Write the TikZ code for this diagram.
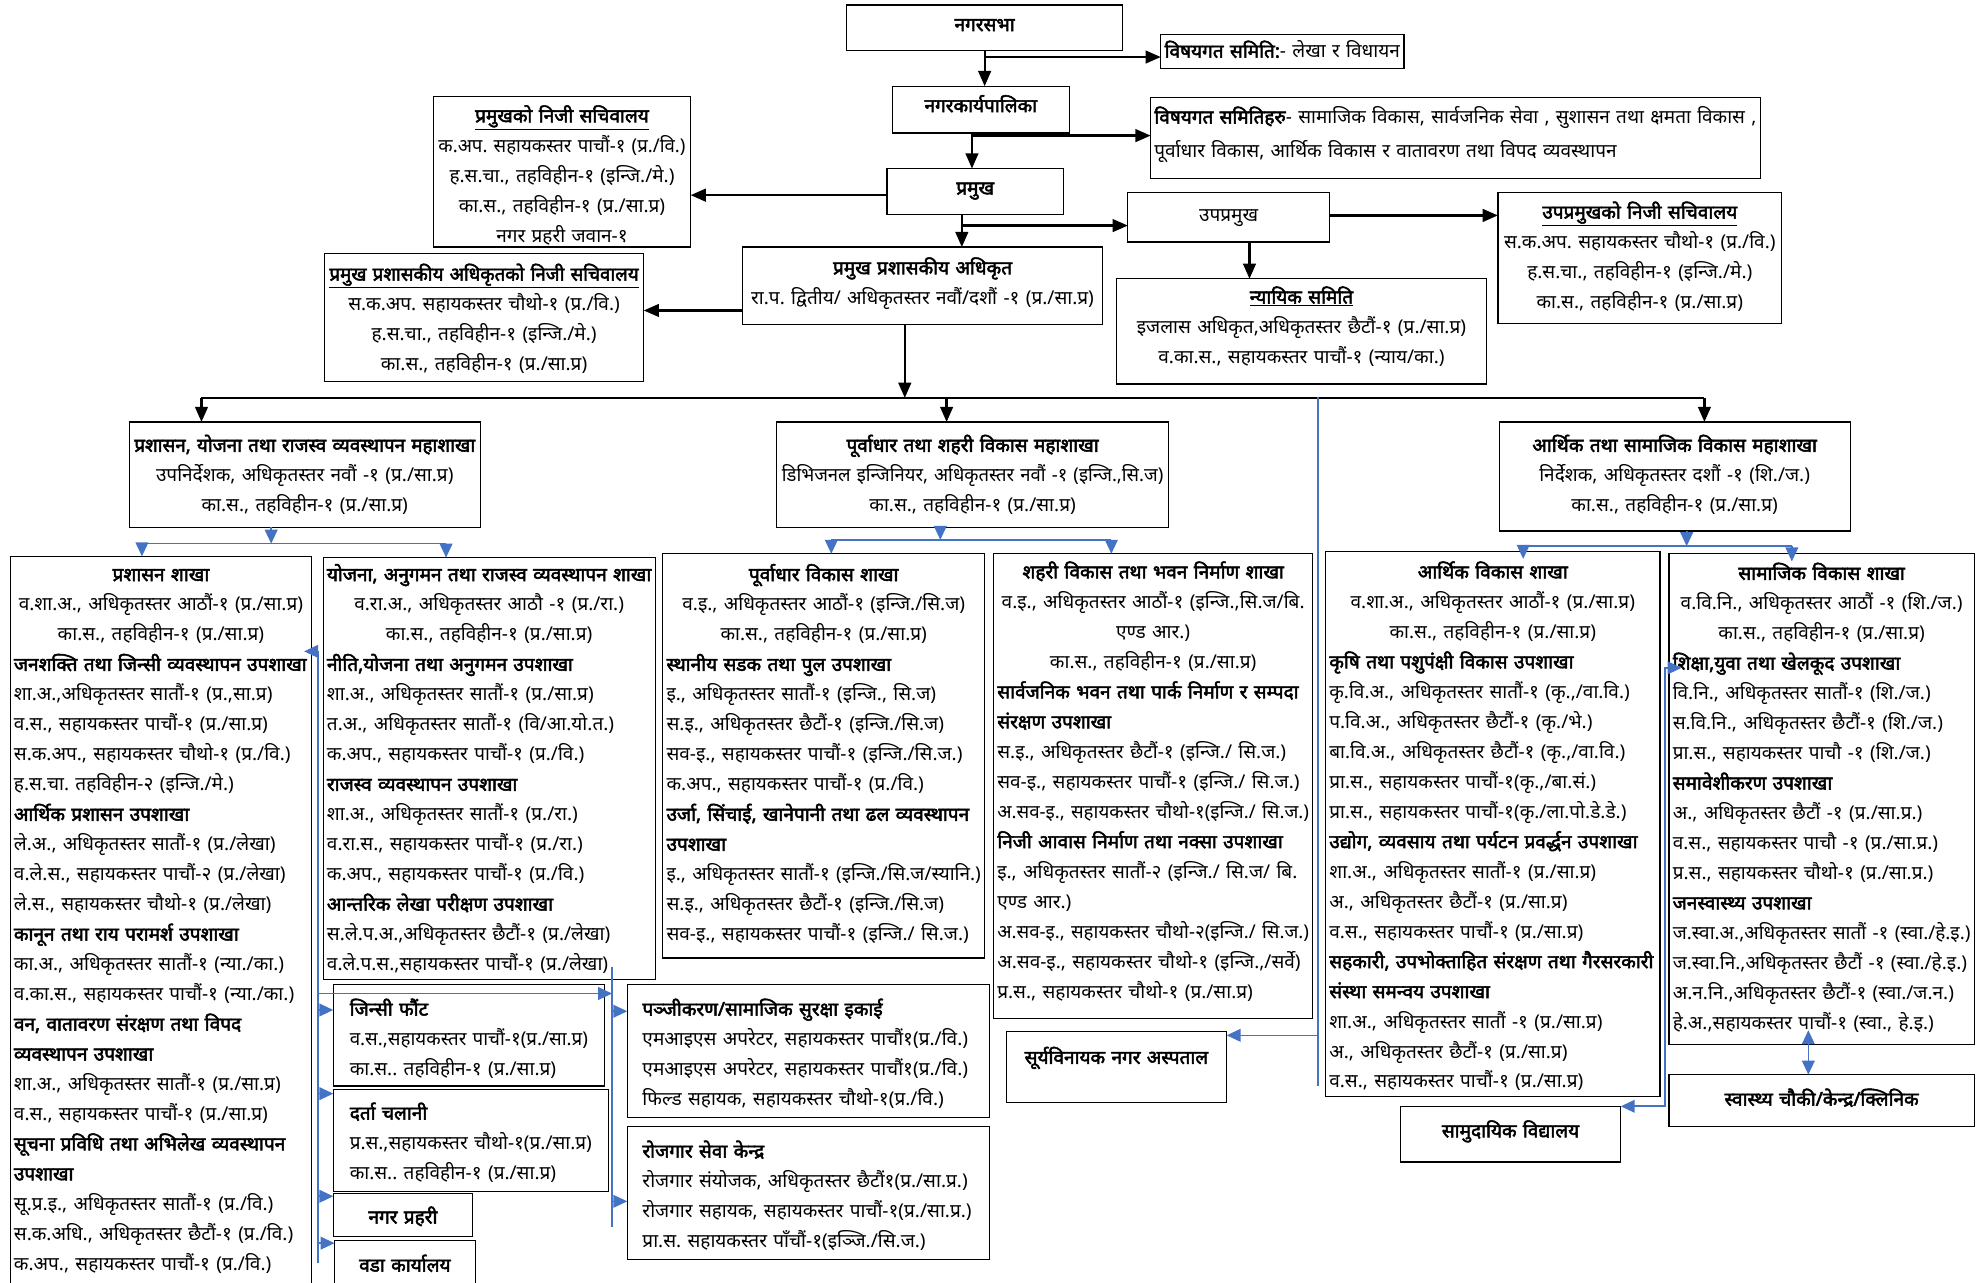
\documentclass[tikz,border=0pt]{standalone}
\usepackage{fontspec}
\usepackage{graphicx}
\setmainfont[Script=Devanagari, BoldFont={Noto Sans}, BoldFeatures={FakeBold=2.6}]{Noto Sans}
\usetikzlibrary{arrows.meta,calc}
\definecolor{bluec}{RGB}{68,114,196}
\frenchspacing
\newsavebox\lnbox
\newcommand\Lc[1]{\sbox\lnbox{#1}\ifdim\wd\lnbox>\hsize\resizebox{\hsize}{\height}{\usebox\lnbox}\else\makebox[\hsize][c]{\usebox\lnbox}\fi}
\newcommand\Ll[1]{\sbox\lnbox{#1}\ifdim\wd\lnbox>\hsize\resizebox{\hsize}{\height}{\usebox\lnbox}\else\usebox\lnbox\fi}
\newcommand\fs{\fontsize{15}{23.65}\selectfont\frenchspacing}
% \tbox[inset]{name}{x1}{y1}{x2}{y2}{first line centre y}{lines}
\newcommand\tbox[8][4]{%
  \node[orgbox, anchor=north west, minimum width={#5-#3}, minimum height={#6-#4}] (#2) at (#3,#4) {};
  \node[tx, text width={#5-#3-2*#1}] (#2-t) at ({#3+#1},{#7-12.5}) {\rule{0pt}{17pt}#8};
}
\begin{document}
\begin{tikzpicture}[x=1pt,y=-1pt,
  orgbox/.style={draw=black, line width=1pt, inner sep=0pt, outer sep=0pt},
  tx/.style={anchor=north west, inner sep=0pt, outer sep=0pt, align=left, font=\fs},
  blk/.style={draw=black, line width=1.8pt, -{Triangle[length=12pt,width=10pt]}},
  bline/.style={draw=bluec, line width=1.3pt},
  bl/.style={draw=bluec, line width=1.3pt, -{Triangle[length=11pt,width=10pt]}},
  blb/.style={draw=bluec, line width=1.3pt, {Triangle[length=11pt,width=10pt]}-{Triangle[length=11pt,width=10pt]}},
  kline/.style={draw=black, line width=1.8pt}]
\fill[white] (0,0) rectangle (1568,1012);
\useasboundingbox (0,0) rectangle (1568,1012);

% ---------- top ----------
\tbox{nagarsabha}{668}{4}{886}{40}{20}{\Lc{\bfseries नगरसभा}}
\tbox[3]{vsa}{916}{27}{1108}{54}{41}{\Ll{\textbf{विषयगत समिति:}- लेखा र विधायन}}
\tbox{karya}{704}{68}{844}{105}{84}{\Lc{\bfseries नगरकार्यपालिका}}
\tbox[3]{vsb}{908}{77}{1389}{141}{93}{\Ll{\textbf{विषयगत समितिहरु}- सामाजिक विकास, सार्वजनिक सेवा , सुशासन तथा क्षमता विकास ,}\\[3pt]\Ll{पूर्वाधार विकास, आर्थिक विकास  र वातावरण तथा विपद व्यवस्थापन}}
\tbox{pramukh}{700}{133}{839}{169}{149}{\Lc{\bfseries प्रमुख}}
\tbox{pnisa}{342}{76}{545}{195}{92}{\Lc{\bfseries\underline{प्रमुखको निजी सचिवालय}}\\\Lc{क.अप. सहायकस्तर पाचौं-१ (प्र./वि.)}\\\Lc{ह.स.चा., तहविहीन-१ (इन्जि./मे.)}\\\Lc{का.स., तहविहीन-१ (प्र./सा.प्र)}\\\Lc{नगर प्रहरी जवान-१}}
\tbox{upa}{890}{152}{1049}{191}{170}{\Lc{उपप्रमुख}}
\tbox{upnisa}{1182}{152}{1406}{255}{168}{\Lc{\bfseries\underline{उपप्रमुखको निजी सचिवालय}}\\\Lc{स.क.अप. सहायकस्तर चौथो-१ (प्र./वि.)}\\\Lc{ह.स.चा., तहविहीन-१ (इन्जि./मे.)}\\\Lc{का.स., तहविहीन-१ (प्र./सा.प्र)}}
\tbox{cao}{586}{195}{870}{256}{212}{\Lc{\bfseries प्रमुख प्रशासकीय अधिकृत}\\\Lc{रा.प. द्वितीय/ अधिकृतस्तर नवौं/दशौं -१ (प्र./सा.प्र)}}
\tbox{nyayik}{881}{220}{1173}{303}{235}{\Lc{\bfseries\underline{न्यायिक समिति}}\\\Lc{इजलास अधिकृत,अधिकृतस्तर छैटौं-१ (प्र./सा.प्र)}\\\Lc{व.का.स., सहायकस्तर पाचौं-१ (न्याय/का.)}}
\tbox{caonisa}{256}{200}{508}{301}{217}{\Lc{\bfseries\underline{प्रमुख प्रशासकीय अधिकृतको निजी सचिवालय}}\\\Lc{स.क.अप. सहायकस्तर चौथो-१ (प्र./वि.)}\\\Lc{ह.स.चा., तहविहीन-१ (इन्जि./मे.)}\\\Lc{का.स., तहविहीन-१ (प्र./सा.प्र)}}

% ---------- mahashakha ----------
\tbox{ma}{102}{333}{379}{416}{352}{\Lc{\bfseries प्रशासन, योजना तथा राजस्व व्यवस्थापन महाशाखा}\\\Lc{उपनिर्देशक, अधिकृतस्तर नवौं -१ (प्र./सा.प्र)}\\\Lc{का.स., तहविहीन-१ (प्र./सा.प्र)}}
\tbox{mb}{613}{333}{922}{416}{352}{\Lc{\bfseries पूर्वाधार तथा शहरी विकास महाशाखा}\\\Lc{डिभिजनल इन्जिनियर, अधिकृतस्तर नवौं -१ (इन्जि.,सि.ज)}\\\Lc{का.स., तहविहीन-१ (प्र./सा.प्र)}}
\tbox{mc}{1183}{333}{1460}{419}{352}{\Lc{\bfseries आर्थिक तथा सामाजिक विकास महाशाखा}\\\Lc{निर्देशक, अधिकृतस्तर दशौं -१ (शि./ज.)}\\\Lc{का.स., तहविहीन-१ (प्र./सा.प्र)}}

% ---------- shakha ----------
\tbox[3]{pa}{8}{439}{246}{1016}{454}{\Lc{\bfseries प्रशासन शाखा}\\\Lc{व.शा.अ., अधिकृतस्तर आठौं-१ (प्र./सा.प्र)}\\\Lc{का.स., तहविहीन-१ (प्र./सा.प्र)}\\
\Ll{\bfseries जनशक्ति तथा जिन्सी व्यवस्थापन उपशाखा}\\\Ll{शा.अ.,अधिकृतस्तर सातौं-१ (प्र.,सा.प्र)}\\\Ll{व.स., सहायकस्तर पाचौं-१ (प्र./सा.प्र)}\\\Ll{स.क.अप., सहायकस्तर चौथो-१ (प्र./वि.)}\\\Ll{ह.स.चा. तहविहीन-२ (इन्जि./मे.)}\\
\Ll{\bfseries आर्थिक प्रशासन उपशाखा}\\\Ll{ले.अ., अधिकृतस्तर सातौं-१ (प्र./लेखा)}\\\Ll{व.ले.स., सहायकस्तर पाचौं-२ (प्र./लेखा)}\\\Ll{ले.स., सहायकस्तर चौथो-१ (प्र./लेखा)}\\
\Ll{\bfseries कानून तथा राय परामर्श उपशाखा}\\\Ll{का.अ., अधिकृतस्तर सातौं-१ (न्या./का.)}\\\Ll{व.का.स., सहायकस्तर पाचौं-१ (न्या./का.)}\\
\Ll{\bfseries वन, वातावरण संरक्षण तथा विपद}\\\Ll{\bfseries व्यवस्थापन उपशाखा}\\\Ll{शा.अ., अधिकृतस्तर सातौं-१ (प्र./सा.प्र)}\\\Ll{व.स., सहायकस्तर पाचौं-१ (प्र./सा.प्र)}\\
\Ll{\bfseries सूचना प्रविधि तथा अभिलेख व्यवस्थापन}\\\Ll{\bfseries उपशाखा}\\\Ll{सू.प्र.इ., अधिकृतस्तर सातौं-१ (प्र./वि.)}\\\Ll{स.क.अधि., अधिकृतस्तर छैटौं-१ (प्र./वि.)}\\\Ll{क.अप., सहायकस्तर पाचौं-१ (प्र./वि.)}}

\tbox[3]{pb}{255}{440}{517}{773}{454}{\Lc{\bfseries योजना, अनुगमन तथा राजस्व व्यवस्थापन शाखा}\\\Lc{व.रा.अ., अधिकृतस्तर आठौ -१ (प्र./रा.)}\\\Lc{का.स., तहविहीन-१ (प्र./सा.प्र)}\\
\Ll{\bfseries नीति,योजना तथा अनुगमन उपशाखा}\\\Ll{शा.अ., अधिकृतस्तर सातौं-१ (प्र./सा.प्र)}\\\Ll{त.अ., अधिकृतस्तर सातौं-१ (वि/आ.यो.त.)}\\\Ll{क.अप., सहायकस्तर पाचौं-१ (प्र./वि.)}\\
\Ll{\bfseries राजस्व व्यवस्थापन उपशाखा}\\\Ll{शा.अ., अधिकृतस्तर सातौं-१ (प्र./रा.)}\\\Ll{व.रा.स., सहायकस्तर पाचौं-१ (प्र./रा.)}\\\Ll{क.अप., सहायकस्तर पाचौं-१ (प्र./वि.)}\\
\Ll{\bfseries आन्तरिक लेखा परीक्षण उपशाखा}\\\Ll{स.ले.प.अ.,अधिकृतस्तर छैटौं-१ (प्र./लेखा)}\\\Ll{व.ले.प.स.,सहायकस्तर पाचौं-१ (प्र./लेखा)}}

\tbox[3]{pc}{523}{437}{777}{756}{454}{\Lc{\bfseries पूर्वाधार विकास शाखा}\\\Lc{व.इ., अधिकृतस्तर आठौं-१ (इन्जि./सि.ज)}\\\Lc{का.स., तहविहीन-१ (प्र./सा.प्र)}\\
\Ll{\bfseries स्थानीय सडक तथा पुल उपशाखा}\\\Ll{इ., अधिकृतस्तर सातौं-१ (इन्जि., सि.ज)}\\\Ll{स.इ., अधिकृतस्तर छैटौं-१ (इन्जि./सि.ज)}\\\Ll{सव-इ., सहायकस्तर पाचौं-१ (इन्जि./सि.ज.)}\\\Ll{क.अप., सहायकस्तर पाचौं-१ (प्र./वि.)}\\
\Ll{\bfseries उर्जा, सिंचाई, खानेपानी तथा ढल व्यवस्थापन}\\\Ll{\bfseries उपशाखा}\\\Ll{इ., अधिकृतस्तर सातौं-१ (इन्जि./सि.ज/स्यानि.)}\\\Ll{स.इ., अधिकृतस्तर छैटौं-१ (इन्जि./सि.ज)}\\\Ll{सव-इ., सहायकस्तर पाचौं-१ (इन्जि./ सि.ज.)}}

\tbox[3]{pd}{784}{437}{1036}{804}{452}{\Lc{\bfseries शहरी विकास तथा भवन निर्माण शाखा}\\\Lc{व.इ., अधिकृतस्तर आठौं-१ (इन्जि.,सि.ज/बि.}\\\Lc{एण्ड आर.)}\\\Lc{का.स., तहविहीन-१ (प्र./सा.प्र)}\\
\Ll{\bfseries सार्वजनिक भवन तथा पार्क निर्माण र सम्पदा}\\\Ll{\bfseries संरक्षण उपशाखा}\\\Ll{स.इ., अधिकृतस्तर छैटौं-१ (इन्जि./ सि.ज.)}\\\Ll{सव-इ., सहायकस्तर पाचौं-१ (इन्जि./ सि.ज.)}\\\Ll{अ.सव-इ., सहायकस्तर चौथो-१(इन्जि./ सि.ज.)}\\
\Ll{\bfseries निजी आवास निर्माण तथा नक्सा उपशाखा}\\\Ll{इ., अधिकृतस्तर सातौं-२ (इन्जि./ सि.ज/ बि.}\\\Ll{एण्ड आर.)}\\\Ll{अ.सव-इ., सहायकस्तर चौथो-२(इन्जि./ सि.ज.)}\\\Ll{अ.सव-इ., सहायकस्तर चौथो-१ (इन्जि.,/सर्वे)}\\\Ll{प्र.स., सहायकस्तर चौथो-१ (प्र./सा.प्र)}}

\tbox[3]{pe}{1046}{435}{1310}{865}{452}{\Lc{\bfseries आर्थिक विकास शाखा}\\\Lc{व.शा.अ., अधिकृतस्तर आठौं-१ (प्र./सा.प्र)}\\\Lc{का.स., तहविहीन-१ (प्र./सा.प्र)}\\
\Ll{\bfseries कृषि तथा पशुपंक्षी विकास उपशाखा}\\\Ll{कृ.वि.अ., अधिकृतस्तर सातौं-१ (कृ.,/वा.वि.)}\\\Ll{प.वि.अ., अधिकृतस्तर छैटौं-१ (कृ./भे.)}\\\Ll{बा.वि.अ., अधिकृतस्तर छैटौं-१ (कृ.,/वा.वि.)}\\\Ll{प्रा.स., सहायकस्तर पाचौं-१(कृ.,/बा.सं.)}\\\Ll{प्रा.स., सहायकस्तर पाचौं-१(कृ./ला.पो.डे.डे.)}\\
\Ll{\bfseries उद्योग, व्यवसाय तथा पर्यटन प्रवर्द्धन उपशाखा}\\\Ll{शा.अ., अधिकृतस्तर सातौं-१ (प्र./सा.प्र)}\\\Ll{अ., अधिकृतस्तर छैटौं-१ (प्र./सा.प्र)}\\\Ll{व.स., सहायकस्तर पाचौं-१ (प्र./सा.प्र)}\\
\Ll{\bfseries सहकारी, उपभोक्ताहित संरक्षण तथा गैरसरकारी}\\\Ll{\bfseries संस्था समन्वय उपशाखा}\\\Ll{शा.अ., अधिकृतस्तर सातौं -१ (प्र./सा.प्र)}\\\Ll{अ., अधिकृतस्तर छैटौं-१ (प्र./सा.प्र)}\\\Ll{व.स., सहायकस्तर पाचौं-१ (प्र./सा.प्र)}}

\tbox[3]{pf}{1317}{437}{1558}{824}{453}{\Lc{\bfseries सामाजिक विकास शाखा}\\\Lc{व.वि.नि., अधिकृतस्तर आठौं -१ (शि./ज.)}\\\Lc{का.स., तहविहीन-१ (प्र./सा.प्र)}\\
\Ll{\bfseries शिक्षा,युवा तथा खेलकूद उपशाखा}\\\Ll{वि.नि., अधिकृतस्तर सातौं-१ (शि./ज.)}\\\Ll{स.वि.नि., अधिकृतस्तर छैटौं-१ (शि./ज.)}\\\Ll{प्रा.स., सहायकस्तर पाचौ -१ (शि./ज.)}\\
\Ll{\bfseries समावेशीकरण उपशाखा}\\\Ll{अ., अधिकृतस्तर छैटौं -१ (प्र./सा.प्र.)}\\\Ll{व.स., सहायकस्तर पाचौ -१ (प्र./सा.प्र.)}\\\Ll{प्र.स., सहायकस्तर चौथो-१ (प्र./सा.प्र.)}\\
\Ll{\bfseries जनस्वास्थ्य उपशाखा}\\\Ll{ज.स्वा.अ.,अधिकृतस्तर सातौं -१ (स्वा./हे.इ.)}\\\Ll{ज.स्वा.नि.,अधिकृतस्तर छैटौं -१ (स्वा./हे.इ.)}\\\Ll{अ.न.नि.,अधिकृतस्तर छैटौं-१ (स्वा./ज.न.)}\\\Ll{हे.अ.,सहायकस्तर पाचौं-१ (स्वा., हे.इ.)}}

% ---------- small units ----------
\tbox[13]{jinsi}{263}{777}{477}{857}{797}{\Ll{\bfseries जिन्सी फौंट}\\\Ll{व.स.,सहायकस्तर पाचौं-१(प्र./सा.प्र)}\\\Ll{का.स.. तहविहीन-१ (प्र./सा.प्र)}}
\tbox[13]{darta}{263}{860}{480}{940}{879}{\Ll{\bfseries दर्ता चलानी}\\\Ll{प्र.स.,सहायकस्तर चौथो-१(प्र./सा.प्र)}\\\Ll{का.स.. तहविहीन-१ (प्र./सा.प्र)}}
\tbox{nprahari}{263}{942}{373}{976}{961}{\Lc{\bfseries नगर प्रहरी}}
\tbox{wada}{264}{979}{375}{1016}{999}{\Lc{\bfseries वडा कार्यालय}}
\tbox[12]{panji}{495}{777}{781}{882}{797}{\Ll{\bfseries पञ्जीकरण/सामाजिक सुरक्षा इकाई}\\\Ll{एमआइएस अपरेटर, सहायकस्तर पाचौं१(प्र./वि.)}\\\Ll{एमआइएस अपरेटर, सहायकस्तर पाचौं१(प्र./वि.)}\\\Ll{फिल्ड सहायक, सहायकस्तर चौथो-१(प्र./वि.)}}
\tbox[12]{rojgar}{495}{889}{781}{994}{909}{\Ll{\bfseries रोजगार सेवा केन्द्र}\\\Ll{रोजगार संयोजक, अधिकृतस्तर छैटौं१(प्र./सा.प्र.)}\\\Ll{रोजगार सहायक, सहायकस्तर पाचौं-१(प्र./सा.प्र.)}\\\Ll{प्रा.स. सहायकस्तर पाँचौं-१(इञ्जि./सि.ज.)}}
\tbox{hosp}{794}{814}{968}{870}{835}{\Lc{\bfseries सूर्यविनायक नगर अस्पताल}}
\tbox{school}{1105}{873}{1279}{917}{893}{\Lc{\bfseries सामुदायिक विद्यालय}}
\tbox{health}{1317}{848}{1558}{889}{868}{\Lc{\bfseries स्वास्थ्य चौकी/केन्द्र/क्लिनिक}}

% ---------- black connectors ----------
\draw[blk] (nagarsabha.south) -- (nagarsabha.south |- karya.north);
\coordinate (j1) at ($(nagarsabha.south)+(0,5)$);
\draw[blk] (j1) -- (j1 -| vsa.west);
\coordinate (k0) at ($(karya.south)+(-7,0)$);
\draw[blk] (k0) -- (k0 |- pramukh.north);
\coordinate (j2) at ($(k0)+(0,2)$);
\draw[blk] (j2) -- (j2 -| vsb.west);
\coordinate (p1) at ($(pramukh.west)+(0,3)$);
\draw[blk] (p1) -- (p1 -| pnisa.east);
\coordinate (p0) at ($(pramukh.south)+(-10.5,0)$);
\draw[blk] (p0) -- (p0 |- cao.north);
\coordinate (j3) at ($(p0)+(0,9)$);
\draw[blk] (j3) -- (j3 -| upa.west);
\coordinate (u1) at ($(upa.east)+(0,-1.5)$);
\draw[blk] (u1) -- (u1 -| upnisa.west);
\coordinate (u0) at ($(upa.south)+(16.5,0)$);
\draw[blk] (u0) -- (u0 |- nyayik.north);
\coordinate (c1) at ($(cao.west)+(0,19.5)$);
\draw[blk] (c1) -- (c1 -| caonisa.east);
\coordinate (barL) at (159,314);
\coordinate (barR) at (1345,314);
\coordinate (barM) at (747,314);
\coordinate (c0) at ($(cao.south)+(-14,0)$);
\draw[kline] (barL) -- (barR);
\draw[blk] (c0) -- (c0 |- barL);
\draw[blk] (barL) -- (barL |- ma.north);
\draw[blk] (barM) -- (barM |- mb.north);
\draw[blk] (barR) -- (barR |- mc.north);

% ---------- blue connectors ----------
\coordinate (ba) at (214,429); \coordinate (ba1) at (112,429); \coordinate (ba2) at (352,429);
\draw[bl] (ma.south -| ba) -- (ba);
\draw[bline] (ba1) -- (ba2);
\draw[bl] (ba1) -- (ba1 |- pa.north);
\draw[bl] (ba2) -- (ba2 |- pb.north);
\coordinate (bb) at (742,426); \coordinate (bb1) at (656,426); \coordinate (bb2) at (877,426);
\draw[bl] (mb.south -| bb) -- (bb);
\draw[bline] (bb1) -- (bb2);
\draw[bl] (bb1) -- (bb1 |- pc.north);
\draw[bl] (bb2) -- (bb2 |- pd.north);
\coordinate (bc) at (1331,431); \coordinate (bc1) at (1202,431); \coordinate (bc2) at (1414,431);
\draw[bl] (mc.south -| bc) -- (bc);
\draw[bline] (bc1) -- (bc2);
\draw[bl] (bc1) -- ($(bc1 |- pe.north)+(0,6)$);
\draw[bl] (bc2) -- ($(bc2 |- pf.north)+(0,6)$);

\coordinate (r0) at (1040,313); \coordinate (r1) at (1040,857); \coordinate (r2) at (1040,817);
\draw[bline] (r0) -- (r1);
\draw[bl] (r2) -- (r2 -| hosp.east);

\coordinate (s0) at (1314,527); \coordinate (s1) at (1314,873);
\draw[blb] ($(s0)+(13,0)$) -- (s0) -- (s1) -- (s1 -| school.east);
\coordinate (h0) at (1427,813);
\draw[blb] (h0) -- (h0 |- health.north);

\coordinate (l0) at (251,514); \coordinate (l1) at (251,997);
\draw[bl] (l1) -- (l0) -- (240,514);
\coordinate (m0) at (483,763); \coordinate (m1) at (483,968);
\draw[bline] (m0) -- (m1);
\coordinate (l2) at (251,784);
\draw[bl] (l2) -- (l2 -| m0);
\coordinate (l3) at (251,797);
\draw[bl] (l3) -- (l3 -| jinsi.west);
\coordinate (l4) at (251,863);
\draw[bl] (l4) -- (l4 -| darta.west);
\coordinate (l5) at (251,944);
\draw[bl] (l5) -- (l5 -| nprahari.west);
\coordinate (l6) at (251,981);
\draw[bl] (l6) -- (l6 -| wada.west);
\coordinate (m2) at (483,798);
\draw[bl] (m2) -- (m2 -| panji.west);
\coordinate (m3) at (483,948);
\draw[bl] (m3) -- (m3 -| rojgar.west);
\end{tikzpicture}
\end{document}
